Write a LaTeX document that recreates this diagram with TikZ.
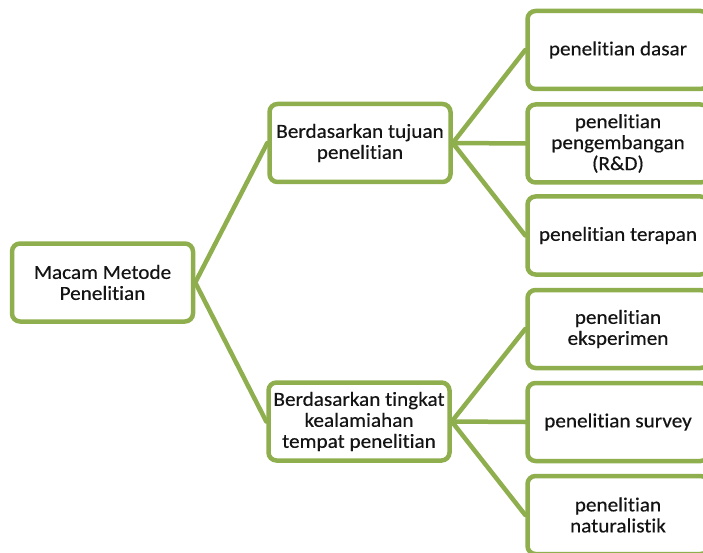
\documentclass[tikz,border=0pt]{standalone}
\usepackage{fontspec}
\setmainfont{Carlito}[Ligatures=NoCommon, FakeStretch=1.06, FakeBold=0.4]
\usetikzlibrary{backgrounds}
\definecolor{boxgreen}{RGB}{143,174,77}
\begin{document}
\begin{tikzpicture}[x=1pt,y=-1pt,
 box/.style={draw=boxgreen, line width=4.5pt, rounded corners=8pt, fill=white,
   minimum width=181pt, minimum height=78pt, inner sep=0pt, align=center,
   font=\fontsize{20}{21}\selectfont, text=black!92},
 link/.style={draw=boxgreen, line width=4.5pt, line cap=round}]
\useasboundingbox (0,0) rectangle (703,553);
\clip (0,0) rectangle (703,553);
\node[box] (root) at (102.5,282.5) {Macam Metode\\Penelitian};
\node[box] (midA) at (360,143) {Berdasarkan tujuan\\penelitian};
\node[box] (midB) at (359,421.5) {Berdasarkan tingkat\\kealamiahan\\tempat penelitian};
\node[box] (l1) at (618,50) {penelitian dasar};
\node[box] (l2) at (618,143.5) {penelitian\\pengembangan\\(R\&D)};
\node[box] (l3) at (618,235.5) {penelitian terapan};
\node[box] (l4) at (618,329) {penelitian\\eksperimen};
\node[box] (l5) at (618,422) {penelitian survey};
\node[box] (l6) at (618,515) {penelitian\\naturalistik};
\begin{pgfonlayer}{background}
\draw[link] (root.east) -- (midA.west);
\draw[link] (root.east) -- (midB.west);
\draw[link] (midA.east) -- (l1.west);
\draw[link] (midA.east) -- (l2.west);
\draw[link] (midA.east) -- (l3.west);
\draw[link] (midB.east) -- (l4.west);
\draw[link] (midB.east) -- (l5.west);
\draw[link] (midB.east) -- (l6.west);
\end{pgfonlayer}
\end{tikzpicture}
\end{document}
